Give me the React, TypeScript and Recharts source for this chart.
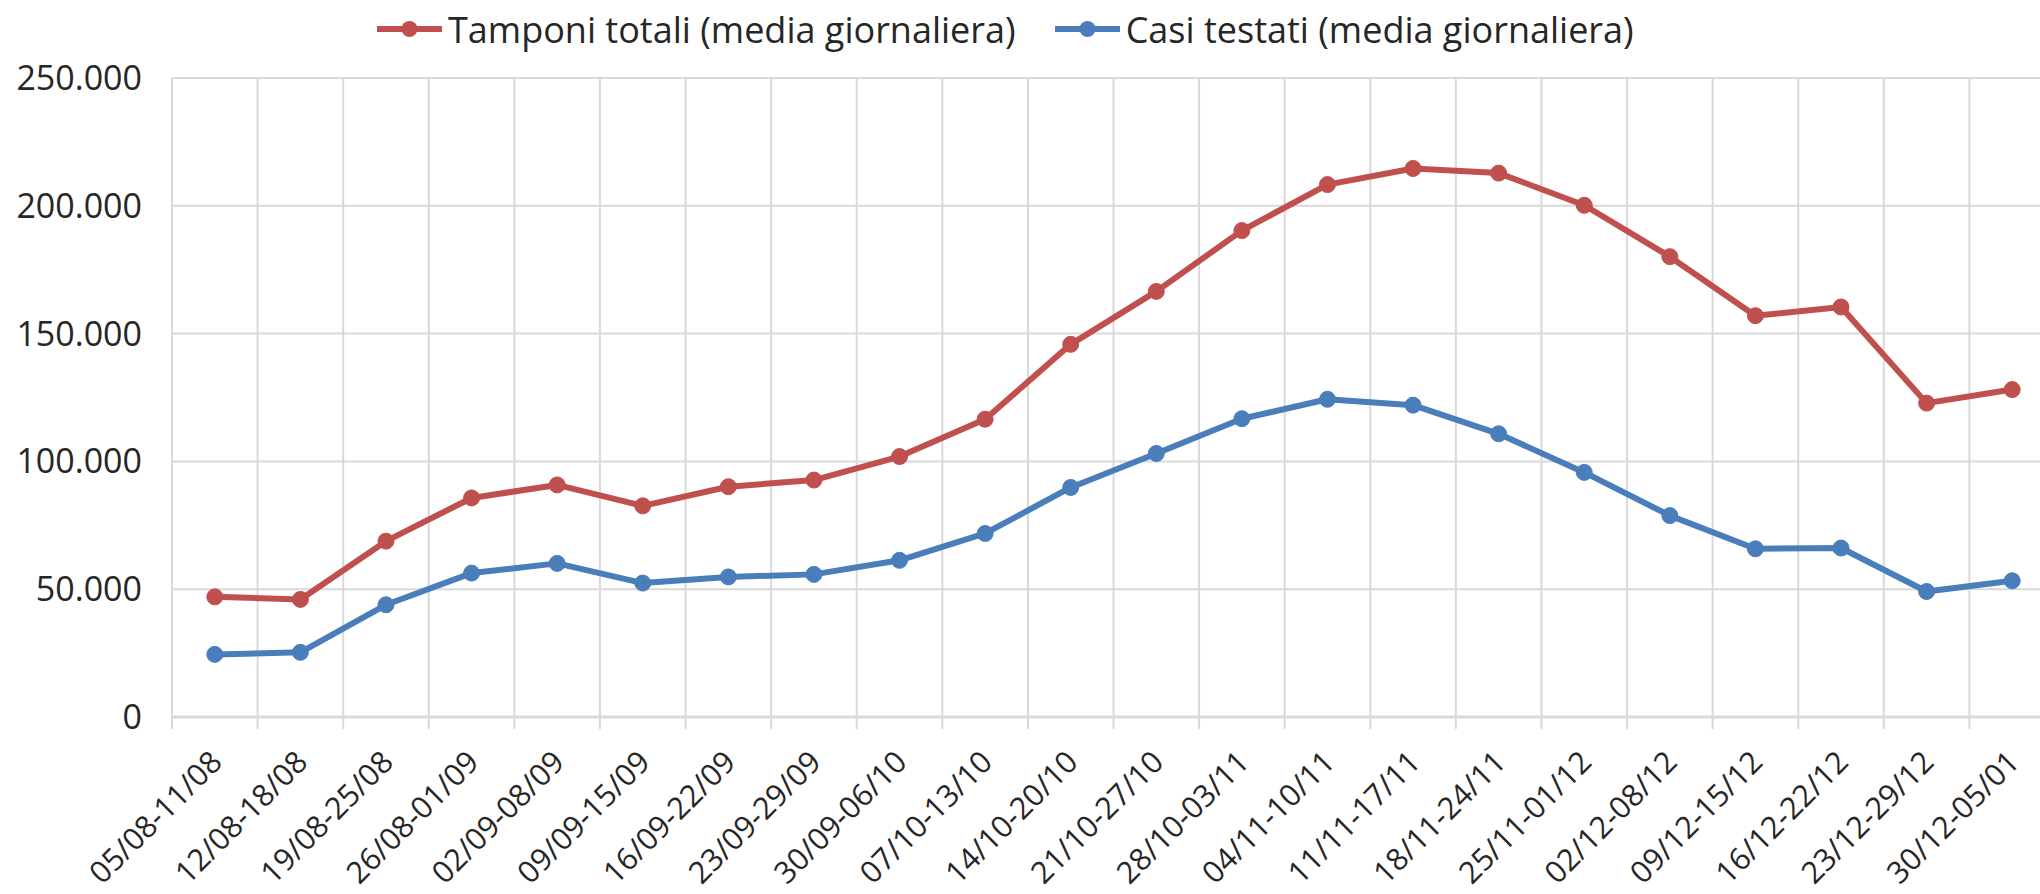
import React from "react"
import { LineChart, Line, XAxis, YAxis, CartesianGrid, Legend } from "recharts"

// weekly windows (x axis)
const weeks = [
  "05/08-11/08", "12/08-18/08", "19/08-25/08", "26/08-01/09", "02/09-08/09",
  "09/09-15/09", "16/09-22/09", "23/09-29/09", "30/09-06/10", "07/10-13/10",
  "14/10-20/10", "21/10-27/10", "28/10-03/11", "04/11-10/11", "11/11-17/11",
  "18/11-24/11", "25/11-01/12", "02/12-08/12", "09/12-15/12", "16/12-22/12",
  "23/12-29/12", "30/12-05/01",
]

// Tamponi totali (media giornaliera)
const tamponi = [
  47000, 46000, 68800, 85700, 90800, 82600, 90100, 92700, 101900, 116500,
  145800, 166500, 190300, 208300, 214600, 212800, 200200, 180100, 157000, 160400,
  122800, 128100,
]

// Casi testati (media giornaliera)
const casi = [
  24500, 25300, 43900, 56300, 60100, 52400, 54800, 55800, 61300, 71800,
  89800, 103100, 116700, 124300, 122000, 110800, 95700, 78800, 65800, 66100,
  49100, 53300,
]

const seriesNames = ["Tamponi totali (media giornaliera)", "Casi testati (media giornaliera)"]
const yTicks = [0, 50000, 100000, 150000, 200000, 250000]

const RED = "#C0504D"
const BLUE = "#4A7EBB"
const GRID = "#D9D9D9"
const TEXT = "#262626"
const FONT = "'Open Sans', sans-serif"

const CHART_W = 2075
const CHART_H = 894
const MARGIN = { top: 28, right: 20, left: 0, bottom: 0 }
const Y_W = 172
const PLOT_W = CHART_W - MARGIN.left - MARGIN.right - Y_W

const data = weeks.map((w, i) => ({ week: w, tamponi: tamponi[i], casi: casi[i] }))

const fmtThousands = (v: number) => String(v).replace(/\B(?=(\d{3})+(?!\d))/g, ".")

function WeekTick(props: any) {
  const { x, y, payload, index } = props
  const half = payload.offset || PLOT_W / weeks.length / 2
  const ax = x + 9
  const ay = y + 47
  return (
    <g>
      <line x1={x - half} y1={y} x2={x - half} y2={y + 12} stroke={GRID} strokeWidth={2} />
      {index === weeks.length - 1 && (
        <line x1={x + half} y1={y} x2={x + half} y2={y + 12} stroke={GRID} strokeWidth={2} />
      )}
      <text
        x={ax}
        y={ay}
        transform={`rotate(-45 ${ax} ${ay})`}
        textAnchor="end"
        fontSize={30.5}
        fill={TEXT}
        fontFamily={FONT}
      >
        {payload.value}
      </text>
    </g>
  )
}

function LegendContent(props: any) {
  const items = [...(props.payload || [])].sort(
    (a: any, b: any) => seriesNames.indexOf(a.value) - seriesNames.indexOf(b.value)
  )
  return (
    <div
      style={{
        display: "flex",
        gap: 39,
        paddingLeft: 377,
        height: 50,
        alignItems: "center",
        fontFamily: FONT,
        fontSize: 36,
        color: TEXT,
        whiteSpace: "nowrap",
      }}
    >
      {items.map((it: any) => (
        <div key={it.value} style={{ display: "flex", alignItems: "center" }}>
          <svg width={65} height={20}>
            <line x1={0} y1={10} x2={65} y2={10} stroke={it.color} strokeWidth={6} />
            <circle cx={32.5} cy={10} r={8} fill={it.color} />
          </svg>
          <span style={{ marginLeft: 6 }}>{it.value}</span>
        </div>
      ))}
    </div>
  )
}

export default function App() {
  return (
    <div
      style={{
        position: "fixed",
        left: 0,
        top: 0,
        width: 2040,
        height: 894,
        overflow: "hidden",
        background: "#fff",
      }}
    >
      <LineChart width={CHART_W} height={CHART_H} data={data} margin={MARGIN}>
        <CartesianGrid
          stroke={GRID}
          strokeWidth={2}
          verticalCoordinatesGenerator={({ offset }: any) =>
            Array.from({ length: weeks.length + 1 }, (_, i) => offset.left + (i * offset.width) / weeks.length)
          }
        />
        <XAxis
          dataKey="week"
          scale="band"
          interval={0}
          height={177}
          tickSize={0}
          tickMargin={0}
          tickLine={false}
          axisLine={{ stroke: GRID, strokeWidth: 3 }}
          tick={<WeekTick />}
        />
        <YAxis
          width={Y_W}
          domain={[0, 250000]}
          ticks={yTicks}
          tickFormatter={fmtThousands}
          tickSize={0}
          tickMargin={30}
          tickLine={false}
          axisLine={false}
          tick={{ fontSize: 34, fill: TEXT, fontFamily: FONT }}
        />
        <Legend verticalAlign="top" content={<LegendContent />} wrapperStyle={{ top: 4, left: 0, width: CHART_W }} />
        <Line
          type="linear"
          dataKey="tamponi"
          name={seriesNames[0]}
          stroke={RED}
          strokeWidth={6}
          strokeLinejoin="round"
          dot={{ r: 8, fill: RED, stroke: RED, strokeWidth: 1 }}
          activeDot={false}
          isAnimationActive={false}
        />
        <Line
          type="linear"
          dataKey="casi"
          name={seriesNames[1]}
          stroke={BLUE}
          strokeWidth={6}
          strokeLinejoin="round"
          dot={{ r: 8, fill: BLUE, stroke: BLUE, strokeWidth: 1 }}
          activeDot={false}
          isAnimationActive={false}
        />
      </LineChart>
    </div>
  )
}
